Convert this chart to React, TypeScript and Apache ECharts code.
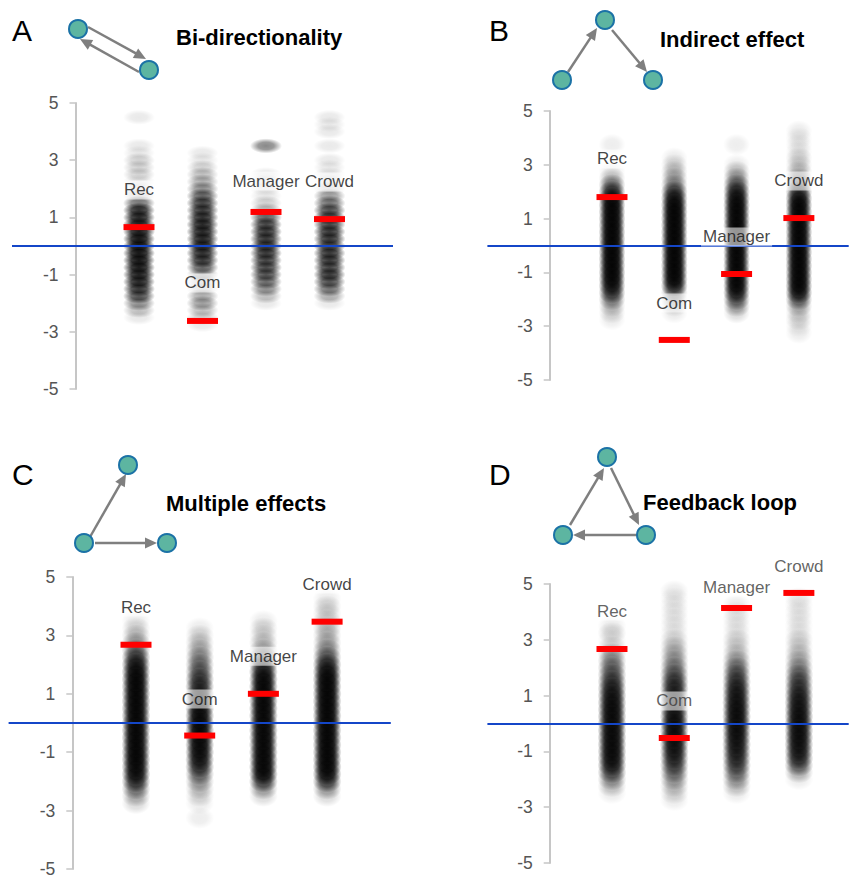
import React, { useEffect, useRef } from 'react';
import * as echarts from 'echarts';

// ---------- data ----------
const CATEGORIES = ['Rec', 'Com', 'Manager', 'Crowd'];
const Y_TICKS = [-5, -3, -1, 1, 3, 5];

// value bins (y) of the strip plots
const BINS = [4.75, 4.5, 4.25, 4, 3.75, 3.5, 3.25, 3, 2.75, 2.5, 2.25, 2, 1.75, 1.5, 1.25, 1, 0.75, 0.5, 0.25, 0,
  -0.25, -0.5, -0.75, -1, -1.25, -1.5, -1.75, -2, -2.25, -2.5, -2.75, -3, -3.25, -3.5];

const A_REC = [0,1,0,0,0, 1,1,2,2,2, 1,1,2,8,18, 20,22,24,26,26, 26,26,24,22,20, 16,12,6,3,1, 0,0,0,0];
const A_COM = [0,0,0,0,0, 0,1,1,2,3, 4,6,10,14,16, 18,20,20,20,20, 18,16,10,4,2, 2,4,5,3,2, 1,0,0,0];
const A_MANAGER = [0,0,0,0,0, 7,0,0,0,1, 1,1,1,2,3, 10,14,16,16,16, 16,14,13,12,9, 6,3,1,0,0, 0,0,0,0];
const A_CROWD = [0,1,1,1,0, 1,0,1,1,1, 1,2,5,8,12, 14,14,16,16,14, 16,16,14,16,12, 8,4,1,0,0, 0,0,0,0];

const B_REC = [0,0,0,0,1, 0,0,0,1,3, 8,16,26,30,30, 30,30,30,30,30, 30,30,30,30,28, 22,14,7,3,2, 1,0,0,0];
const B_COM = [0,0,0,0,0, 0,1,2,3,4, 6,14,22,28,30, 30,30,30,30,30, 30,30,30,30,28, 20,6,3,2,1, 0,0,0,0];
const B_MANAGER = [0,0,0,0,1, 0,0,1,3,5, 10,18,24,28,28, 28,28,28,28,28, 28,28,28,28,28, 28,20,10,5,2, 0,0,0,0];
const B_CROWD = [0,0,1,1,1, 1,2,2,3,4, 6,12,24,30,30, 30,30,30,30,30, 30,30,30,30,30, 30,22,10,4,2, 2,1,1,0];

const C_REC = [0,0,0,0,0, 1,2,3,5,8, 14,22,28,32,32, 32,32,32,32,32, 32,32,32,32,32, 28,26,16,8,4, 2,0,0,0];
const C_COM = [0,0,0,0,0, 0,1,2,3,4, 6,8,10,14,16, 18,20,24,28,30, 30,28,28,26,22, 16,9,5,3,2, 1,0,1,0];
const C_MANAGER = [0,0,0,0,0, 1,2,2,3,4, 6,12,22,28,30, 30,30,30,30,30, 30,30,30,30,30, 30,28,14,5,2, 0,0,0,0];
const C_CROWD = [0,0,1,2,2, 2,3,3,4,6, 10,18,26,32,32, 32,32,32,32,32, 32,32,32,32,32, 32,26,14,5,2, 0,0,0,0];

const D_REC = [0,0,0,0,0, 1,2,1,2,4, 6,8,10,14,18, 22,24,26,26,26, 26,26,26,26,24, 20,12,6,3,1, 0,0,0,0];
const D_COM = [1,1,1,1,1, 1,1,2,3,4, 5,7,10,14,16, 16,16,18,22,24, 24,24,22,20,16, 12,8,5,3,2, 1,0,0,0];
const D_MANAGER = [0,0,1,1,1, 1,1,2,2,3, 5,8,11,14,18, 20,22,24,24,24, 24,22,20,18,15, 12,8,5,3,1, 0,0,0,0];
const D_CROWD = [0,1,1,1,1, 1,1,2,2,3, 4,6,9,12,14, 18,20,22,24,24, 24,24,22,20,16, 10,4,1,0,0, 0,0,0,0];

// red bars
const A_MEANS = [0.66, -2.62, 1.19, 0.94];
const B_MEANS = [1.8, -3.51, -1.06, 1.02];
const C_MEANS = [2.68, -0.43, 1.0, 3.47];
const D_MEANS = [2.67, -0.52, 4.14, 4.68];

// where the category names sit (y value)
const A_LABEL_Y = [1.96, -1.29, 2.27, 2.24];
const B_LABEL_Y = [3.22, -2.14, 0.32, 2.4];
const C_LABEL_Y = [3.97, 0.82, 2.29, 4.76];
const D_LABEL_Y = [4.03, 0.81, 4.89, 5.61];

const TITLES = ['Bi-directionality', 'Indirect effect', 'Multiple effects', 'Feedback loop'];
const LETTERS = ['A', 'B', 'C', 'D'];

// ---------- styling / layout ----------
const FONT = '"Liberation Sans", Arial, sans-serif';
const ELLIPSE = 'path://M0,5A5,5 0 1,1 10,5A5,5 0 1,1 0,5Z';
const SOFT_BLACK = {
  type: 'radial', x: 0.5, y: 0.5, r: 0.5,
  colorStops: [
    { offset: 0, color: 'rgba(0,0,0,1)' },
    { offset: 0.5, color: 'rgba(0,0,0,0.85)' },
    { offset: 1, color: 'rgba(0,0,0,0)' },
  ],
};

const PANELS = [
  { counts: [A_REC, A_COM, A_MANAGER, A_CROWD], means: A_MEANS, labelY: A_LABEL_Y,
    grid: { left: 12, top: 103, width: 381, height: 286 }, xMax: 5, axisOffset: -63.5, size: [32, 15], alpha: 0.085,
    labelColor: '#111', letterXY: [12, 30], titleXY: [176, 37] },
  { counts: [B_REC, B_COM, B_MANAGER, B_CROWD], means: B_MEANS, labelY: B_LABEL_Y,
    grid: { left: 487.4, top: 111, width: 361.3, height: 269 }, xMax: 4.8, axisOffset: -62.3, size: [27, 22], alpha: 0.07,
    labelColor: '#111', letterXY: [489, 30], titleXY: [660, 39] },
  { counts: [C_REC, C_COM, C_MANAGER, C_CROWD], means: C_MEANS, labelY: C_LABEL_Y,
    grid: { left: 8.6, top: 577, width: 382.2, height: 292 }, xMax: 5, axisOffset: -63.7, size: [29, 22], alpha: 0.07,
    labelColor: '#111', letterXY: [12, 474], titleXY: [166, 503] },
  { counts: [D_REC, D_COM, D_MANAGER, D_CROWD], means: D_MEANS, labelY: D_LABEL_Y,
    grid: { left: 487.4, top: 584, width: 361.3, height: 279 }, xMax: 4.8, axisOffset: -62.3, size: [29, 22], alpha: 0.07,
    labelColor: '#3a3a3a', letterXY: [489, 474], titleXY: [643, 502] },
];

// icon geometry
const NODE_FILL = '#5db5a1';
const NODE_STROKE = '#1b72a6';
const ARROW = '#7f7f7f';

const ICONS = [
  { nodes: [[78, 29], [149, 70]], arrows: [[88, 27, 146, 59], [139, 72, 80, 39]] },
  { nodes: [[562, 80], [605, 20], [653, 80]], arrows: [[568, 72, 597, 28], [612, 30, 647, 72]] },
  { nodes: [[128, 465], [84, 543], [167, 543]], arrows: [[90, 537, 126, 474], [95, 543, 157, 543]] },
  { nodes: [[607, 457], [563, 535], [646, 535]], arrows: [[570, 525, 604, 468], [611, 468, 639, 525], [637, 535, 573, 535]] },
];

function arrowEls(x1: number, y1: number, x2: number, y2: number) {
  const dx = x2 - x1, dy = y2 - y1;
  const L = Math.hypot(dx, dy);
  const ux = dx / L, uy = dy / L;
  const hl = 12, hw = 5.5;
  const bx = x2 - ux * hl, by = y2 - uy * hl;
  return [
    { type: 'line', z: 1, shape: { x1, y1, x2: bx + ux, y2: by + uy }, style: { stroke: ARROW, lineWidth: 2.5 } },
    { type: 'polygon', z: 1, shape: { points: [[x2, y2], [bx - uy * hw, by + ux * hw], [bx + uy * hw, by - ux * hw]] }, style: { fill: ARROW } },
  ];
}

function buildOption() {
  const grids: any[] = [];
  const xAxes: any[] = [];
  const yAxes: any[] = [];
  const series: any[] = [];
  const graphics: any[] = [];

  PANELS.forEach((p, gi) => {
    grids.push({ ...p.grid, containLabel: false, outerBoundsMode: 'none' });
    xAxes.push({ gridIndex: gi, type: 'value', min: -1, max: p.xMax, show: false, axisLine: { onZero: false } });
    yAxes.push({
      gridIndex: gi, type: 'value', min: -5, max: 5, position: 'left', offset: p.axisOffset,
      axisLine: { show: true, onZero: false, lineStyle: { color: '#c6c6c6', width: 2 } },
      axisTick: { show: true, length: 6, customValues: Y_TICKS, lineStyle: { color: '#c6c6c6', width: 1.5 } },
      axisLabel: { show: true, customValues: Y_TICKS, color: '#555555', fontSize: 17.5, fontFamily: FONT, margin: 17 },
      splitLine: { show: false },
    });

    const pts: any[] = [];
    p.counts.forEach((arr, ci) => {
      arr.forEach((n, bi) => {
        if (n > 0) {
          pts.push({ value: [ci + 1, BINS[bi]], itemStyle: { opacity: 1 - Math.pow(1 - p.alpha, n) } });
        }
      });
    });
    series.push({
      type: 'scatter', xAxisIndex: gi, yAxisIndex: gi, silent: true, z: 2,
      symbol: ELLIPSE, symbolSize: p.size, itemStyle: { color: SOFT_BLACK }, data: pts,
      markLine: {
        silent: true, symbol: 'none', z: 5,
        label: { show: false },
        lineStyle: { color: '#1446c8', width: 2, type: 'solid' },
        data: [{ yAxis: 0 }],
      },
    });
    series.push({
      type: 'scatter', xAxisIndex: gi, yAxisIndex: gi, silent: true, z: 6,
      symbol: 'rect', symbolSize: [31, 6], itemStyle: { color: '#ff0000', opacity: 1 },
      data: p.means.map((m, ci) => [ci + 1, m]),
    });
    series.push({
      type: 'scatter', xAxisIndex: gi, yAxisIndex: gi, silent: true, z: 10, clip: false,
      symbolSize: 1, itemStyle: { color: 'rgba(0,0,0,0)' },
      label: {
        show: true, position: 'inside', formatter: (d: any) => d.name,
        fontSize: 17, fontFamily: FONT, color: p.labelColor,
        backgroundColor: 'rgba(255,255,255,0.72)', padding: [1, 2],
      },
      data: p.labelY.map((y, ci) => ({ name: CATEGORIES[ci], value: [ci + 1, y] })),
    });

    graphics.push({
      type: 'text', x: p.letterXY[0], y: p.letterXY[1], z: 5,
      style: { text: LETTERS[gi], fontSize: 30, fontFamily: FONT, fill: '#000', verticalAlign: 'middle', align: 'left' },
    });
    graphics.push({
      type: 'text', x: p.titleXY[0], y: p.titleXY[1], z: 5,
      style: { text: TITLES[gi], fontSize: 22, fontWeight: 'bold', fontFamily: FONT, fill: '#000', verticalAlign: 'middle', align: 'left' },
    });
    const icon = ICONS[gi];
    icon.arrows.forEach((a) => graphics.push(...arrowEls(a[0], a[1], a[2], a[3])));
    icon.nodes.forEach((n) => graphics.push({
      type: 'circle', z: 3, shape: { cx: n[0], cy: n[1], r: 9 },
      style: { fill: NODE_FILL, stroke: NODE_STROKE, lineWidth: 2 },
    }));
  });

  return {
    animation: false,
    backgroundColor: '#ffffff',
    grid: grids,
    xAxis: xAxes,
    yAxis: yAxes,
    series,
    graphic: { elements: graphics },
  };
}

export default function App() {
  const ref = useRef<HTMLDivElement>(null);
  useEffect(() => {
    if (!ref.current) return;
    const chart = echarts.init(ref.current, null, { renderer: 'svg' });
    chart.setOption(buildOption() as any);
    return () => chart.dispose();
  }, []);
  return <div ref={ref} style={{ position: 'absolute', left: 0, top: 0, width: 849, height: 878 }} />;
}
